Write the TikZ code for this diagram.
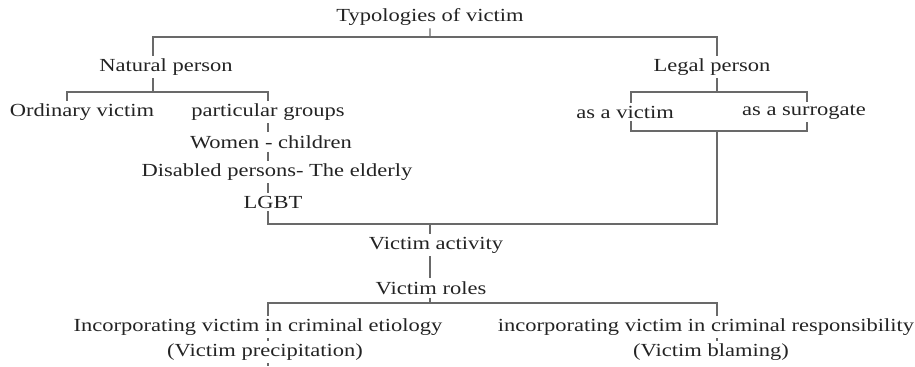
\documentclass[tikz,border=0pt]{standalone}
\usepackage{fontspec}
\setmainfont{Liberation Serif}
\usepackage{xcolor}
\definecolor{textgray}{RGB}{35,35,35}
\definecolor{linegray}{RGB}{105,105,105}
\usepackage{tikz}
\usetikzlibrary{calc}
\tikzset{
    entry/.style={inner sep=1.5pt, xscale=1.22, text=textgray, font=\fontsize{10.5}{12}\selectfont},
    link/.style={draw=linegray, line width=0.8pt},
}

\begin{document}
\begin{tikzpicture}[x=0.02cm, y=-0.02cm]
      \useasboundingbox (0,0) rectangle (915,366);

      \path
          node[entry] (typologies) at (430,17) {Typologies of victim}
          node[entry] (natural) at (166,67) {Natural person}
          node[entry] (legal) at (712,67) {Legal person}
          node[entry] (ordinary) at (82,112) {Ordinary victim}
          node[entry] (groups) at (268,112) {particular groups}
          node[entry] (women) at (271,142) {Women - children}
          node[entry] (disabled) at (277,172) {Disabled persons- The elderly}
          node[entry] (lgbt) at (273,202) {LGBT}
          node[entry] (as-victim) at (625,112) {as a victim}
          node[entry] (as-surrogate) at (804,112) {as a surrogate}
          node[entry] (activity) at (436,245) {Victim activity}
          node[entry] (roles) at (431,288) {Victim roles}
          node[entry] (etiology) at (258,327) {Incorporating victim in criminal etiology}
          node[entry] (precipitation) at (265,352) {(Victim precipitation)}
          node[entry] (responsibility) at (706,327) {incorporating victim in criminal responsibility}
          node[entry] (blaming) at (711,352) {(Victim blaming)};

      \coordinate (typ-mid) at (430,37);
      \coordinate (typ-left) at (153,37);
      \coordinate (typ-right) at (717,37);
      \coordinate (nat-mid) at (153,92);
      \coordinate (nat-left) at (67,92);
      \coordinate (nat-right) at (268,92);
      \coordinate (leg-mid) at (717,92);
      \coordinate (leg-left) at (631,92);
      \coordinate (leg-right) at (807,92);
      \coordinate (leg-join) at (717,131);
      \coordinate (merge-left) at (268,224);
      \coordinate (merge-mid) at (430,224);
      \coordinate (merge-right) at (717,224);
      \coordinate (roles-mid) at (430,303);
      \coordinate (roles-left) at (268,303);
      \coordinate (roles-right) at (717,303);
      \coordinate (roles-end) at (268,366);

      \draw[link] (typologies) -- (typ-mid);
      \draw[link] (typ-left |- natural.north) -- (typ-left) -- (typ-right) -- (typ-right |- legal.north);

      \draw[link] (nat-mid |- natural.south) -- (nat-mid);
      \draw[link] (nat-left |- ordinary.north) -- (nat-left) -- (nat-right) -- (nat-right |- groups.north);
      \draw[link] (nat-right |- groups.south) -- (nat-right |- women.north);
      \draw[link] (nat-right |- women.south) -- (nat-right |- disabled.north);
      \draw[link] (nat-right |- disabled.south) -- (nat-right |- lgbt.north);

      \draw[link] (leg-mid |- legal.south) -- (leg-mid);
      \draw[link] (leg-left |- as-victim.north) -- (leg-left) -- (leg-right) -- (leg-right |- as-surrogate.north);
      \draw[link] (leg-left |- as-victim.south) |- (leg-right |- leg-join) -- (leg-right |- as-surrogate.south);

      \draw[link] (leg-join) -- (merge-right) -- (merge-left) -- (nat-right |- lgbt.south);
      \draw[link] (merge-mid) -- (merge-mid |- activity.north);
      \draw[link] (merge-mid |- activity.south) -- (merge-mid |- roles.north);

      \draw[link] (roles-mid |- roles.south) -- (roles-mid);
      \draw[link] (roles-left |- etiology.north) -- (roles-left) -- (roles-right) -- (roles-right |- responsibility.north);
      \draw[link] (roles-left |- etiology.south) -- (roles-left |- precipitation.north);
      \draw[link] (roles-left |- precipitation.south) -- (roles-end);
      \draw[link] (roles-right |- responsibility.south) -- (roles-right |- blaming.north);
\end{tikzpicture}
\end{document}
